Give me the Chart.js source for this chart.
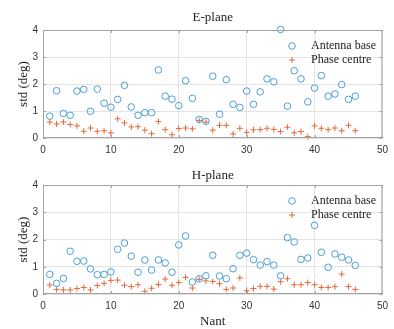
<!DOCTYPE html>
<html>
<head>
<meta charset="utf-8">
<script src="https://cdn.jsdelivr.net/npm/chart.js@4/dist/chart.umd.min.js"></script>
<style>
  html, body { margin: 0; padding: 0; background: #fff; }
  #wrap { position: relative; width: 394px; height: 329px; }
  .box { position: absolute; left: 0; width: 394px; }
</style>
</head>
<body>
<div id="wrap">
  <div class="box" style="top:0;height:160px"><canvas id="e-chart"></canvas></div>
  <div class="box" style="top:160px;height:169px"><canvas id="h-chart"></canvas></div>
</div>
<script>
// antenna index 1..46
const nant = [1,2,3,4,5,6,7,8,9,10,11,12,13,14,15,16,17,18,19,20,21,22,23,
  24,25,26,27,28,29,30,31,32,33,34,35,36,37,38,39,40,41,42,43,44,45,46];

const eBase = [0.81,1.75,0.91,0.84,1.74,1.80,0.99,1.81,1.29,1.14,1.43,1.95,1.15,
  0.84,0.94,0.94,2.52,1.55,1.44,1.20,2.12,1.47,0.69,0.62,2.29,0.88,2.16,1.25,1.13,
  1.74,1.25,1.71,2.19,2.08,4.02,1.18,2.49,2.19,1.34,1.85,2.31,1.55,1.63,1.98,1.43,1.55];
const ePhase = [0.59,0.52,0.59,0.50,0.45,0.25,0.37,0.25,0.27,0.19,0.71,0.56,0.41,
  0.42,0.29,0.16,0.61,0.31,0.12,0.35,0.37,0.34,0.65,0.59,0.29,0.47,0.47,0.15,0.36,
  0.21,0.30,0.31,0.36,0.32,0.24,0.40,0.19,0.24,0.05,0.45,0.36,0.31,0.37,0.27,0.47,0.27];

const hBase = [0.72,0.39,0.57,1.57,1.20,1.21,0.92,0.71,0.72,0.81,1.64,1.87,1.39,
  0.80,1.25,0.88,1.25,1.14,0.80,1.80,2.13,0.44,0.56,0.67,1.42,0.66,0.56,0.93,1.42,
  1.50,1.26,1.06,1.19,1.06,0.67,2.07,1.91,1.27,1.32,2.52,1.53,0.98,1.47,1.35,1.25,1.05];
const hPhase = [0.33,0.17,0.15,0.15,0.20,0.24,0.15,0.31,0.39,0.50,0.51,0.32,0.27,
  0.34,0.10,0.21,0.35,0.55,0.32,0.42,0.61,0.22,0.54,0.48,0.46,0.38,0.17,0.22,0.59,
  0.12,0.20,0.28,0.28,0.18,0.45,0.56,0.34,0.34,0.42,0.34,0.24,0.24,0.27,0.73,0.27,0.17];

const seriesNames = ['Antenna base', 'Phase centre'];
const xTicks = [0, 10, 20, 30, 40, 50];
const yTicks = [0, 1, 2, 3, 4];

const blue = '#4a9fd8';
const orange = '#e5683a';
const serif = '"Liberation Serif", "DejaVu Serif", serif';
const sans = '"Liberation Sans", Arial, sans-serif';

function pts(vals) {
  return nant.map((n, i) => ({ x: n, y: vals[i] }));
}

// box around plot, inward ticks and in-plot legend
const framePlugin = {
  id: 'frame',
  afterDraw(chart) {
    const { ctx, chartArea: a, scales } = chart;
    ctx.save();
    ctx.strokeStyle = '#a3a3a3';
    ctx.lineWidth = 1;
    ctx.strokeRect(a.left + 0.5, a.top + 0.5, a.right - a.left - 1, a.bottom - a.top - 1);
    ctx.beginPath();
    xTicks.forEach(v => {
      const px = Math.round(scales.x.getPixelForValue(v)) + 0.5;
      ctx.moveTo(px, a.bottom); ctx.lineTo(px, a.bottom - 3);
      ctx.moveTo(px, a.top); ctx.lineTo(px, a.top + 3);
    });
    yTicks.forEach(v => {
      const py = Math.round(scales.y.getPixelForValue(v)) + 0.5;
      ctx.moveTo(a.left, py); ctx.lineTo(a.left + 3, py);
      ctx.moveTo(a.right, py); ctx.lineTo(a.right - 3, py);
    });
    ctx.stroke();

    // legend
    const lx = a.left + 249, ly = a.top + 16;
    ctx.font = '12px ' + serif;
    ctx.textBaseline = 'middle';
    ctx.fillStyle = '#222';
    ctx.lineWidth = 1;
    ctx.strokeStyle = blue;
    ctx.beginPath(); ctx.arc(lx, ly, 3.3, 0, Math.PI * 2); ctx.stroke();
    ctx.fillText(seriesNames[0], lx + 19, ly);
    ctx.strokeStyle = orange;
    ctx.beginPath();
    ctx.moveTo(lx - 3, ly + 14); ctx.lineTo(lx + 3, ly + 14);
    ctx.moveTo(lx, ly + 11); ctx.lineTo(lx, ly + 17);
    ctx.stroke();
    ctx.fillText(seriesNames[1], lx + 19, ly + 14);
    ctx.restore();
  }
};

function makeChart(id, title, base, phase, opts) {
  return new Chart(document.getElementById(id).getContext('2d'), {
    type: 'scatter',
    data: {
      datasets: [
        {
          label: seriesNames[0],
          data: pts(base),
          pointStyle: 'circle',
          pointRadius: 3.3,
          borderColor: blue,
          backgroundColor: 'rgba(0,0,0,0)',
          borderWidth: 1,
          clip: false
        },
        {
          label: seriesNames[1],
          data: pts(phase),
          pointStyle: 'cross',
          pointRadius: 3,
          borderColor: orange,
          backgroundColor: orange,
          borderWidth: 1,
          clip: false
        }
      ]
    },
    options: {
      responsive: true,
      maintainAspectRatio: false,
      animation: false,
      layout: { padding: { left: 0, right: 8, top: 0, bottom: 0 } },
      plugins: {
        legend: { display: false },
        tooltip: { enabled: false },
        title: {
          display: true,
          text: title,
          fullSize: false,
          color: '#222',
          font: { family: serif, size: 13, weight: 'normal' },
          padding: opts.titlePad
        }
      },
      scales: {
        x: {
          type: 'linear',
          min: 0, max: 50,
          afterBuildTicks: s => { s.ticks = xTicks.map(v => ({ value: v })); },
          afterFit: s => { s.height = opts.xHeight; },
          grid: { color: '#e4e4e4', drawTicks: false },
          border: { display: false },
          ticks: { color: '#333', padding: 6, font: { family: sans, size: 10 } },
          title: {
            display: opts.xTitle,
            text: 'Nant',
            color: '#222',
            font: { family: serif, size: 13 },
            padding: { top: 0, bottom: 0 }
          }
        },
        y: {
          type: 'linear',
          min: 0, max: 4,
          afterBuildTicks: s => { s.ticks = yTicks.map(v => ({ value: v })); },
          afterFit: s => { s.width = 43; },
          grid: { color: '#e4e4e4', drawTicks: false },
          border: { display: false },
          ticks: { color: '#333', padding: 5, font: { family: sans, size: 10 } },
          title: {
            display: true,
            text: 'std (deg)',
            color: '#222',
            font: { family: serif, size: 13 },
            padding: { top: 16, bottom: 0 }
          }
        }
      }
    },
    plugins: [framePlugin]
  });
}

makeChart('e-chart', 'E-plane', eBase, ePhase,
  { titlePad: { top: 10, bottom: 4.4 }, xHeight: 22, xTitle: false });
makeChart('h-chart', 'H-plane', hBase, hPhase,
  { titlePad: { top: 8.2, bottom: 1.2 }, xHeight: 35, xTitle: true });
</script>
</body>
</html>
